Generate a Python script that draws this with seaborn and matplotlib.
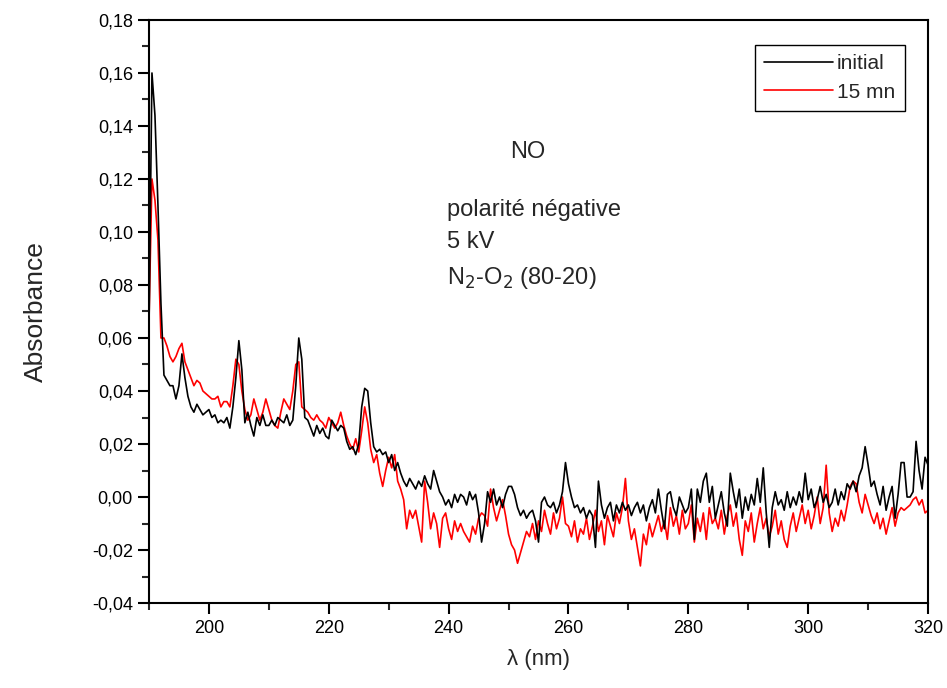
import numpy as np
import pandas as pd
import matplotlib
matplotlib.use('Agg')
import matplotlib.pyplot as plt
import seaborn as sns
from matplotlib.ticker import MultipleLocator, FuncFormatter

# wavelength grid (nm), 0.5 nm steps from 190 to 320
wavelength = np.arange(190, 320.5, 0.5)

# absorbance (one row = 5 nm)
absorbance_initial = [
    0.062, 0.160, 0.144, 0.110, 0.073, 0.046, 0.044, 0.042, 0.042, 0.037,
    0.042, 0.054, 0.045, 0.038, 0.034, 0.032, 0.035, 0.033, 0.031, 0.032,
    0.033, 0.030, 0.031, 0.028, 0.029, 0.028, 0.030, 0.026, 0.034, 0.045,
    0.059, 0.048, 0.028, 0.032, 0.027, 0.023, 0.030, 0.027, 0.031, 0.027,
    0.027, 0.029, 0.027, 0.030, 0.029, 0.028, 0.031, 0.027, 0.029, 0.042,
    0.060, 0.052, 0.030, 0.029, 0.026, 0.023, 0.027, 0.024, 0.026, 0.023,
    0.022, 0.029, 0.027, 0.025, 0.027, 0.026, 0.021, 0.018, 0.019, 0.016,
    0.020, 0.034, 0.041, 0.040, 0.028, 0.019, 0.017, 0.018, 0.016, 0.017,
    0.013, 0.016, 0.010, 0.013, 0.009, 0.006, 0.004, 0.007, 0.005, 0.003,
    0.006, 0.004, 0.008, 0.005, 0.003, 0.010, 0.006, 0.002, 0.000, -0.003,
    -0.001, -0.004, 0.001, -0.002, 0.001, 0.000, -0.003, 0.002, -0.001, 0.001,
    -0.006, -0.017, -0.010, 0.002, -0.002, 0.003, -0.003, 0.000, -0.004, 0.001,
    0.004, 0.004, 0.001, -0.004, -0.007, -0.005, -0.008, -0.006, -0.005, -0.009,
    -0.017, -0.002, 0.000, -0.003, -0.004, -0.002, -0.006, -0.003, 0.002, 0.013,
    0.005, 0.000, -0.004, -0.003, -0.006, -0.004, -0.008, -0.005, -0.007, -0.019,
    0.006, -0.003, -0.008, -0.004, -0.002, -0.009, -0.003, -0.006, -0.002, -0.005,
    -0.003, -0.007, -0.004, -0.002, -0.006, -0.003, -0.009, -0.004, -0.001, -0.006,
    0.003, -0.005, -0.012, 0.001, 0.002, -0.004, -0.007, 0.000, -0.003, -0.006,
    -0.004, 0.003, -0.016, 0.003, -0.002, 0.006, 0.009, -0.002, 0.004, -0.008,
    -0.003, 0.002, -0.006, -0.011, 0.009, 0.002, -0.004, 0.003, -0.008, 0.000,
    -0.005, 0.001, -0.003, 0.007, -0.002, 0.011, -0.006, -0.019, -0.004, 0.002,
    -0.003, -0.001, -0.005, 0.002, -0.004, 0.000, -0.003, 0.002, -0.002, 0.009,
    -0.001, 0.003, -0.004, -0.001, 0.004, -0.002, 0.001, -0.004, -0.002, 0.003,
    -0.003, 0.002, -0.001, 0.005, 0.003, 0.006, 0.002, 0.008, 0.011, 0.019,
    0.012, 0.004, 0.006, 0.001, -0.003, 0.004, -0.005, 0.000, 0.004, -0.008,
    0.001, 0.013, 0.013, 0.000, 0.000, 0.002, 0.021, 0.010, 0.003, 0.015,
    0.012,
]

absorbance_15mn = [
    0.066, 0.120, 0.112, 0.097, 0.060, 0.060, 0.057, 0.053, 0.051, 0.053,
    0.056, 0.058, 0.051, 0.048, 0.045, 0.042, 0.044, 0.043, 0.040, 0.039,
    0.038, 0.037, 0.037, 0.038, 0.034, 0.036, 0.036, 0.034, 0.042, 0.052,
    0.050, 0.040, 0.033, 0.029, 0.031, 0.037, 0.033, 0.029, 0.032, 0.037,
    0.033, 0.029, 0.027, 0.026, 0.032, 0.037, 0.035, 0.033, 0.040, 0.050,
    0.051, 0.034, 0.033, 0.032, 0.030, 0.029, 0.031, 0.029, 0.028, 0.026,
    0.030, 0.028, 0.026, 0.028, 0.032, 0.027, 0.023, 0.020, 0.018, 0.022,
    0.017, 0.025, 0.034, 0.028, 0.018, 0.013, 0.016, 0.009, 0.004, 0.010,
    0.015, 0.011, 0.016, 0.006, 0.003, -0.001, -0.012, -0.005, -0.008, -0.005,
    -0.011, -0.017, 0.006, -0.002, -0.012, -0.006, -0.010, -0.019, -0.008, -0.006,
    -0.012, -0.016, -0.009, -0.013, -0.010, -0.013, -0.015, -0.017, -0.011, -0.014,
    -0.008, -0.006, -0.007, -0.011, 0.003, -0.004, -0.009, -0.005, -0.001, -0.007,
    -0.014, -0.018, -0.020, -0.025, -0.021, -0.017, -0.013, -0.015, -0.010, -0.016,
    -0.009, -0.013, -0.005, -0.010, -0.014, -0.006, -0.012, -0.008, 0.000, -0.010,
    -0.011, -0.015, -0.009, -0.017, -0.012, -0.014, -0.008, -0.016, -0.011, -0.005,
    -0.013, -0.009, -0.018, -0.007, -0.011, -0.015, -0.006, -0.010, -0.004, 0.007,
    -0.009, -0.016, -0.012, -0.019, -0.026, -0.014, -0.018, -0.010, -0.015, -0.011,
    -0.007, -0.013, -0.009, -0.016, -0.004, -0.011, -0.007, -0.014, -0.005, -0.012,
    -0.010, -0.003, -0.017, -0.008, -0.013, -0.006, -0.016, -0.004, -0.010, -0.008,
    -0.012, -0.005, -0.014, -0.007, -0.003, -0.011, -0.006, -0.016, -0.022, -0.009,
    -0.013, -0.006, -0.017, -0.010, -0.004, -0.012, -0.008, -0.015, -0.011, -0.005,
    -0.014, -0.009, -0.016, -0.019, -0.011, -0.006, -0.013, -0.008, -0.003, -0.010,
    -0.005, -0.012, -0.007, 0.000, -0.010, -0.004, 0.012, -0.006, -0.013, -0.008,
    -0.011, -0.005, -0.009, -0.003, 0.004, 0.006, 0.005, -0.002, -0.006, 0.001,
    -0.003, -0.007, -0.010, -0.006, -0.012, -0.008, -0.014, -0.009, -0.004, -0.011,
    -0.006, -0.004, -0.005, -0.004, -0.003, -0.001, 0.000, -0.003, -0.001, -0.006,
    -0.005,
]

df_init = pd.DataFrame({'wl': wavelength, 'abs': absorbance_initial})
df_15 = pd.DataFrame({'wl': wavelength, 'abs': absorbance_15mn})

sns.set_style('ticks')
plt.rcParams['font.family'] = ['Liberation Sans', 'DejaVu Sans']

fig = plt.figure(figsize=(9.47, 6.88), dpi=100)
ax = fig.add_axes([0.1573, 0.1235, 0.8227, 0.8475])

# red first so black sits on top, legend reordered below
sns.lineplot(data=df_15, x='wl', y='abs', color='red', lw=1.2, label='15 mn', ax=ax)
sns.lineplot(data=df_init, x='wl', y='abs', color='black', lw=1.2, label='initial', ax=ax)

ax.set_xlim(190, 320)
ax.set_ylim(-0.04, 0.18)
ax.xaxis.set_major_locator(MultipleLocator(20))
ax.xaxis.set_minor_locator(MultipleLocator(10))
ax.yaxis.set_major_locator(MultipleLocator(0.02))
ax.yaxis.set_minor_locator(MultipleLocator(0.01))
ax.yaxis.set_major_formatter(FuncFormatter(lambda v, p: f'{v:.2f}'.replace('.', ',')))

for s in ax.spines.values():
    s.set_visible(True)
    s.set_linewidth(1.5)
    s.set_color('black')
ax.tick_params(which='major', direction='out', length=8, width=1.5, labelsize=13, colors='black')
ax.tick_params(which='minor', direction='out', length=5, width=1.5)
ax.tick_params(axis='x', pad=4)

ax.set_xlabel('λ (nm)', fontsize=16, labelpad=9)
ax.set_ylabel('Absorbance', fontsize=19, labelpad=32)

handles, labels = ax.get_legend_handles_labels()
ax.legend(handles[::-1], labels[::-1], loc='upper right', bbox_to_anchor=(0.970, 0.957),
          borderaxespad=0, fontsize=15, fancybox=False, edgecolor='black', framealpha=1,
          handlelength=3.3, handletextpad=0.2, borderpad=0.45, labelspacing=0.45)

ax.text(0.4865, 0.7736, 'NO', transform=ax.transAxes, fontsize=17, ha='center', va='center')
ax.text(0.3825, 0.674, 'polarité négative', transform=ax.transAxes, fontsize=17, va='center')
ax.text(0.3825, 0.619, '5 kV', transform=ax.transAxes, fontsize=17, va='center')
ax.text(0.3825, 0.557, 'N$_2$-O$_2$ (80-20)', transform=ax.transAxes, fontsize=17, va='center')

fig.savefig('out.png', dpi=100)
